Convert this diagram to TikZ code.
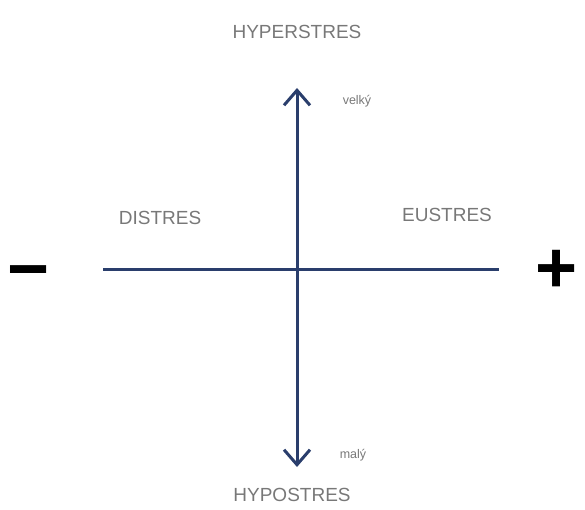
\documentclass[tikz,border=0pt]{standalone}
\usepackage{fontspec}
\setmainfont{Liberation Sans}
\usetikzlibrary{arrows.meta}
\definecolor{axisblue}{RGB}{42,62,108}
\definecolor{labelgray}{RGB}{120,120,120}
\tikzset{
  axisline/.style={draw=axisblue, line width=3pt},
  bigarrow/.style={axisline, -{Straight Barb[length=15pt,width=26pt,line width=3pt]}},
  biglabel/.style={text=labelgray, font=\fontsize{19}{19}\selectfont, inner sep=0pt},
  smalllabel/.style={text=labelgray, font=\fontsize{12.5}{12.5}\selectfont, inner sep=0pt},
  signlabel/.style={text=black, font=\fontsize{72}{72}\selectfont\bfseries, inner sep=0pt}
}
\begin{document}
\begin{tikzpicture}[x=1pt,y=-1pt]
\useasboundingbox (0,0) rectangle (585,510);
\coordinate (L) at (103,269);
\coordinate (R) at (499,269);
\coordinate (C) at (297,269);
\coordinate (T) at (297,88);
\coordinate (B) at (297,467);
\draw[axisline] (L) -- (R);
\draw[bigarrow] (C) -- (T);
\draw[bigarrow] (C) -- (B);
\node[biglabel] (hyper) at (297,32) {HYPERSTRES};
\node[biglabel] (hypo) at (292,495) {HYPOSTRES};
\node[biglabel] (dis) at (160,218) {DISTRES};
\node[biglabel] (eus) at (447,215) {EUSTRES};
\node[smalllabel] (velky) at (357,101) {velký};
\node[smalllabel] (maly) at (353,455) {malý};
\node[signlabel] (minus) at (29,280) {−};
\node[signlabel] (plus) at (557,271) {+};
\end{tikzpicture}
\end{document}
